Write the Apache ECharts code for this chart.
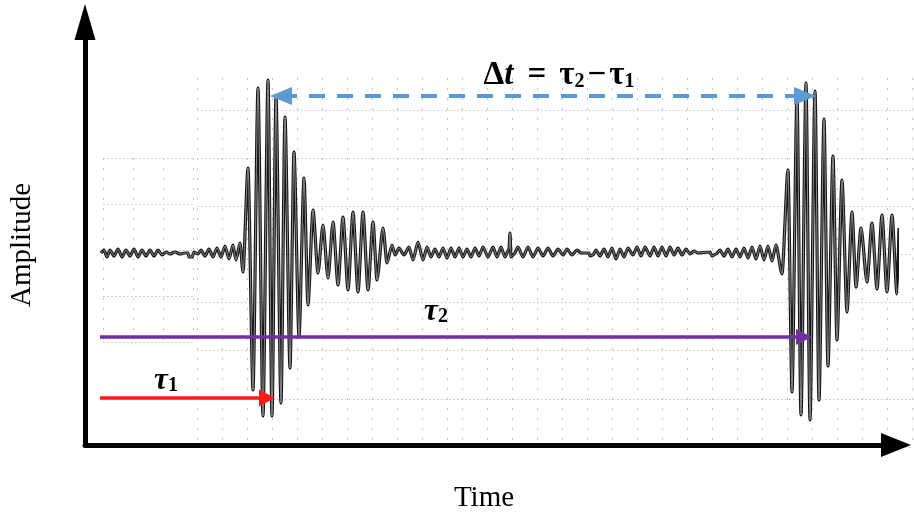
<!DOCTYPE html>
<html>
<head>
<meta charset="utf-8">
<script src="https://cdn.jsdelivr.net/npm/echarts@6/dist/echarts.min.js"></script>
<style>
html,body{margin:0;padding:0;background:#fff;}
#chart{width:914px;height:519px;}
</style>
</head>
<body>
<div id="chart"></div>
<script>
// ---- Data (time in samples, amplitude in arbitrary units; baseline = 0) ----
const preTime = [16,19,22,25,29,33,37,41,45,49,53,57,61,65,69,73,77,81,85,90,95,100,103,104,107,109,113,116,120,124,128,132,136,140,144,148,151,155,158];
const preAmp  = [0,3,-4,3,-3,4,-4,3,-3,4,-4,3,-3,3,-3,3,-2,1,-1,1,-1,0,0,-4,-4,1,-1,3,-3,4,-4,5,-4,7,-6,8,-7,10,-19];

const burst1Time = [163,168,173,178,183,187,191,196,200,205,209,214,219,223,228,233,238,243,248,253,258,263,268,273,278,283,288,292,298,302,307,310,314,319,324,328,333,338,342];
const burst1Amp  = [85,-137,165,-163,173,-163,156,-150,136,-115,101,-84,75,-52,43,-20,28,-25,31,-32,36,-37,41,-39,41,-37,31,-27,25,-10,8,-2,5,-2,6,-7,11,-7,6];

const quietTime = [346,350,354,358,362,366,370,374,378,382,386,390,394,398,403,408,412,416,420,424,425,426,429,433,438,443,448,453,458,463,468,473,478,482,487,492,496,504,505,508,511,515,519,523,527,531,535,539,543,548,552,556,560,565,569,573,577,581,585,589,593,597,601,605,609,613,625,627,631,635,639,643,647,651,655,659,663,667,671,675,679,683,687,691,697];
const quietAmp  = [-4,4,-4,5,-5,5,-4,5,-4,4,-4,5,-3,6,-4,6,-4,6,-4,4,20,-4,-1,6,-4,6,-4,5,-3,5,-3,4,-2,4,-2,3,0,0,-3,-2,3,-3,4,-4,5,-6,4,-4,5,-2,6,-3,6,-3,6,-3,6,-3,6,-2,5,-2,4,-1,2,0,1,-3,-1,3,-3,4,-4,4,-4,5,-5,6,-6,7,-7,7,-8,8,-21];

const burst2Time = [703,707,712,716,721,725,730,734,739,743,748,752,757,762,767,771,776,782,787,792,797,802,807,812,814];
const burst2Amp  = [83,-139,157,-162,170,-167,162,-147,134,-113,97,-87,73,-59,41,-34,25,-29,30,-36,38,-39,38,-41,25];

// arrival times of the two echoes and levels of the annotation arrows
const tau1 = 188;
const tau2 = 726;
const deltaLevel = 157;
const tau2Level = -84;
const tau1Level = -145;
const arrowStart = 15;

// ---- Build ----
function pairs(t, a){ return t.map((v,i)=>[v, a[i]]); }
const trace = [].concat(pairs(preTime,preAmp), pairs(burst1Time,burst1Amp), pairs(quietTime,quietAmp), pairs(burst2Time,burst2Amp));

const chart = echarts.init(document.getElementById('chart'), null, {renderer:'canvas'});
const serif = "'Liberation Serif','Times New Roman',serif";
const gridCol = '#c4c4c4';
const AH = 16; // arrow head length
const hidden = {show:false};

function gridAxis(idx, min, max, showSplit, dash){
  return {type:'value', gridIndex:idx, min:min, max:max, interval:1,
    axisLine:hidden, axisTick:hidden, axisLabel:hidden,
    splitLine:{show:showSplit, lineStyle:{color:gridCol, width:1, type:dash}}};
}

const option = {
  animation:false,
  backgroundColor:'#fff',
  grid:[
    {left:85, right:18, top:22, bottom:74},          // 0 main
    {left:103, top:158, width:90, height:184},       // 1 left graticule
    {left:197, right:2, top:110, height:337},        // 2 right rows
    {left:197, top:78, width:250, height:364},       // 3 right cols A
    {left:462, top:78, width:450, height:364}        // 4 right cols B
  ],
  xAxis:[
    {type:'value', gridIndex:0, min:0, max:811,
      axisLine:{show:true, onZero:false, symbol:['none','triangle'], symbolSize:[24,30], lineStyle:{color:'#000', width:5}},
      axisTick:hidden, axisLabel:hidden, splitLine:hidden},
    gridAxis(1,0,3,true,[2,8]),
    gridAxis(2,0,1,false,'solid'),
    gridAxis(3,0,10,true,[2,8]),
    gridAxis(4,0,18,true,[2,8])
  ],
  yAxis:[
    {type:'value', gridIndex:0, min:-192, max:231,
      axisLine:{show:true, onZero:false, symbol:['none','triangle'], symbolSize:[21,36], lineStyle:{color:'#000', width:5}},
      axisTick:hidden, axisLabel:hidden, splitLine:hidden},
    gridAxis(1,0,4,true,[1.5,2.5]),
    gridAxis(2,0,7,true,[1.5,2.5]),
    gridAxis(3,0,1,false,'solid'),
    gridAxis(4,0,1,false,'solid')
  ],
  series:[
    {type:'line', name:'trace-outline', xAxisIndex:0, yAxisIndex:0, data:trace, showSymbol:false, symbol:'none',
      clip:false, smooth:0.25, smoothMonotone:'x', lineStyle:{color:'#161616', width:3.2}, silent:true, z:3},
    {type:'line', name:'trace', xAxisIndex:0, yAxisIndex:0, data:trace, showSymbol:false, symbol:'none',
      clip:false, smooth:0.25, smoothMonotone:'x', lineStyle:{color:'#8a8a8a', width:1}, silent:true, z:4},
    {type:'line', name:'arrows', xAxisIndex:0, yAxisIndex:0, data:[], silent:true, z:5,
      markLine:{silent:true, animation:false, label:{show:false}, emphasis:{disabled:true},
        symbol:['none','none'],
        data:[
          [{coord:[tau1 + AH/2, deltaLevel], symbol:'triangle', symbolSize:[18,AH+6], lineStyle:{color:'#5b9bd5', width:4, type:[16,12]}},
           {coord:[tau2 + 2 - AH/2, deltaLevel], symbol:'triangle', symbolSize:[18,AH+6]}],
          [{coord:[arrowStart, tau2Level], symbol:'none', lineStyle:{color:'#7030a0', width:3.5, type:'solid'}},
           {coord:[tau2 - AH/2 + 1, tau2Level], symbol:'triangle', symbolSize:[16,AH]}],
          [{coord:[arrowStart, tau1Level], symbol:'none', lineStyle:{color:'#ff1a1a', width:3.5, type:'solid'}},
           {coord:[tau1 + 2 - AH/2, tau1Level], symbol:'triangle', symbolSize:[17,AH]}]
        ]}
    }
  ],
  graphic:[
    {type:'text', x:22, y:245, rotation:Math.PI/2, style:{text:'Amplitude', font:'29px '+serif, fill:'#000', align:'center', verticalAlign:'middle'}},
    {type:'text', x:484, y:498, style:{text:'Time', font:'29px '+serif, fill:'#000', align:'center', verticalAlign:'middle'}},
    {type:'text', x:559, y:75, style:{
      text:'{d|Δ}{t|t}{n|=}{g|τ}{s|2}{m|−}{g|τ}{s|1}', align:'center', verticalAlign:'middle',
      rich:{
        d:{font:'bold 33px '+serif, fill:'#000', lineHeight:34, verticalAlign:'bottom'},
        t:{font:'bold italic 33px '+serif, fill:'#000', lineHeight:34, verticalAlign:'bottom'},
        n:{font:'bold 33px '+serif, fill:'#000', lineHeight:34, verticalAlign:'bottom', padding:[0,13,0,14]},
        m:{font:'bold 33px '+serif, fill:'#000', lineHeight:34, verticalAlign:'bottom', padding:[0,3,0,3]},
        g:{font:'bold 33px '+serif, fill:'#000', lineHeight:34, verticalAlign:'bottom'},
        s:{font:'bold 20px '+serif, fill:'#000', lineHeight:25, verticalAlign:'bottom'}
      }}},
    {type:'text', x:436, y:312, style:{
      text:'{t|τ}{s|2}', align:'center', verticalAlign:'middle',
      rich:{
        t:{font:'bold italic 31px '+serif, fill:'#000', lineHeight:30, verticalAlign:'bottom'},
        s:{font:'bold 20px '+serif, fill:'#000', lineHeight:22, verticalAlign:'bottom'}
      }}},
    {type:'text', x:166, y:381, style:{
      text:'{t|τ}{s|1}', align:'center', verticalAlign:'middle',
      rich:{
        t:{font:'bold italic 31px '+serif, fill:'#000', lineHeight:30, verticalAlign:'bottom'},
        s:{font:'bold 20px '+serif, fill:'#000', lineHeight:22, verticalAlign:'bottom'}
      }}}
  ]
};
chart.setOption(option);
</script>
</body>
</html>
